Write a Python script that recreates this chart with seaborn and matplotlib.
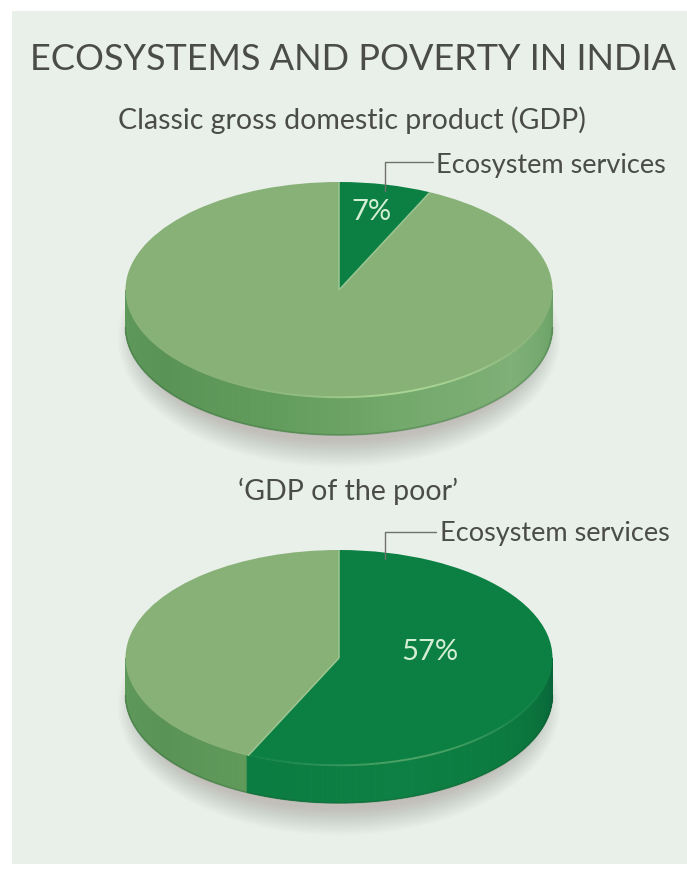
import numpy as np
import matplotlib
matplotlib.use("Agg")
import matplotlib.pyplot as plt
import seaborn as sns
from matplotlib.collections import LineCollection, PolyCollection
from matplotlib.patches import Ellipse, Rectangle

# Share of each GDP measure made up by ecosystem services, in percent
gdp_titles = ["Classic gross domestic product (GDP)", "\u2018GDP of the poor\u2019"]
ecosystem_share = [7, 57]
other_share = [93, 43]
callout_label = "Ecosystem services"
chart_title = "ECOSYSTEMS AND POVERTY IN INDIA"

W, H = 687, 879
BG = "#e9efe9"
INK = "#4a4c4a"
LIGHT_FACE, DARK_FACE = "#88b177", "#0c8043"

sns.set_theme(style="white")
plt.rcParams["font.family"] = ["Lato", "Open Sans", "DejaVu Sans"]

light_side = sns.blend_palette(["#5f9a5b", "#5a9356", "#629c5c", "#74a96c", "#7fb077", "#6aa165"], 240)
dark_side = sns.blend_palette(["#0b6f39", "#0c7b3f", "#0c7d41", "#0d8044", "#0b7a3e", "#08653a"], 240)

fig = plt.figure(figsize=(W / 100, H / 100), dpi=100, facecolor="white")
page = fig.add_axes([0, 0, 1, 1], zorder=0)
page.set_xlim(0, W)
page.set_ylim(H, 0)
page.axis("off")
page.add_patch(Rectangle((12, 12), W - 12, 853, facecolor=BG, edgecolor="none"))


def draw_pie(cy, eco, other, rx=213.5, ry=108, depth=37, cx=339):
    # Each pie sits in its own axes; one data unit equals one radius on each axis
    left, right = -1.2, 1.2
    top, bottom = 1.1, -1.75
    ax = fig.add_axes(
        [(cx + left * rx) / W, 1 - (cy - bottom * ry) / H,
         (right - left) * rx / W, (top - bottom) * ry / H],
        zorder=1,
    )
    d = depth / ry

    # Soft ground shadow below the disc
    for grow in np.linspace(0.24, 0.0, 24):
        ax.add_patch(Ellipse((0.0, -d - 0.10), 2 * (0.93 + grow * 0.45), 2 * (0.96 + grow),
                             facecolor="#8d7f7d", edgecolor="none", alpha=0.017, zorder=1))

    # Front wall of the disc, split into thin strips shaded along the arc
    boundary = 90 - 360 * eco / (eco + other)
    angles = np.linspace(180, 360, 241)
    polys, colours = [], []
    for i in range(240):
        a0, a1 = np.radians(angles[i]), np.radians(angles[i + 1])
        mid = angles[i] + 0.375
        # Wedge one runs clockwise from 12 o'clock to the boundary angle
        in_eco = (mid - 360) > boundary
        ramp = dark_side if in_eco else light_side
        polys.append([(np.cos(a0), np.sin(a0)), (np.cos(a1), np.sin(a1)),
                      (np.cos(a1), np.sin(a1) - d), (np.cos(a0), np.sin(a0) - d)])
        colours.append(ramp[i])
    ax.add_collection(PolyCollection(polys, facecolors=colours, edgecolors=colours,
                                     linewidths=0.6, zorder=2))

    # Rounded lower edge of the wall
    t = np.radians(np.linspace(180, 360, 181))
    x, y = np.cos(t), np.sin(t) - d
    segs = np.stack([np.c_[x[:-1], y[:-1]], np.c_[x[1:], y[1:]]], axis=1)
    ax.add_collection(LineCollection(segs, colors=[(0.1, 0.3, 0.14, 0.22)], linewidths=1.4, zorder=3))

    # Top face
    wedges, _ = ax.pie([eco, other], colors=[DARK_FACE, LIGHT_FACE], startangle=90,
                       counterclock=False, radius=1, center=(0, 0),
                       wedgeprops=dict(edgecolor="none", linewidth=0))
    for w in wedges:
        w.set_zorder(4)
    # Pale seam between the two wedges, running out from the centre
    for ang in (90, boundary):
        ax.plot([0, np.cos(np.radians(ang))], [0, np.sin(np.radians(ang))],
                color="#9cc592", lw=1.1, zorder=5, solid_capstyle="butt")

    # Highlight along the bevel, strongest on the front right of the rim
    deg = np.linspace(215, 345, 131)
    t = np.radians(deg)
    x, y = np.cos(t) * 0.993, np.sin(t) * 0.993
    strength = np.exp(-((deg - 290) / 30) ** 2)
    segs = np.stack([np.c_[x[:-1], y[:-1]], np.c_[x[1:], y[1:]]], axis=1)
    rim = [(0.33, 0.66, 0.42, 0.9 * s) if (dd - 360) > boundary else (0.68, 0.86, 0.60, 0.9 * s)
           for dd, s in zip(deg[:-1], strength[:-1])]
    ax.add_collection(LineCollection(segs, colors=rim, linewidths=1.4, zorder=6))

    ax.set_aspect("auto")
    ax.set_xlim(left, right)
    ax.set_ylim(bottom, top)
    ax.axis("off")
    ax.patch.set_alpha(0)


draw_pie(291, ecosystem_share[0], other_share[0])
draw_pie(659, ecosystem_share[1], other_share[1])

# Text and callouts are placed on the page axes, drawn above the pies
notes = fig.add_axes([0, 0, 1, 1], zorder=2)
notes.set_xlim(0, W)
notes.set_ylim(H, 0)
notes.axis("off")
notes.patch.set_alpha(0)

notes.text(30, 60, chart_title, fontsize=26, color=INK, va="center", ha="left")
notes.text(118, 120, gdp_titles[0], fontsize=20.5, color=INK, va="center", ha="left")
notes.text(348, 491, gdp_titles[1], fontsize=20.5, color=INK, va="center", ha="center")

notes.text(436, 165, callout_label, fontsize=19.5, color=INK, va="center", ha="left")
notes.text(440, 534, callout_label, fontsize=19.5, color=INK, va="center", ha="left")
notes.plot([433, 385, 385], [163, 163, 192], color="#6f736c", lw=1.0)
notes.plot([436, 385, 385], [533, 533, 560], color="#6f736c", lw=1.0)

notes.text(371, 212, f"{ecosystem_share[0]}%", fontsize=21, color="#d4eed6", ha="center", va="center")
notes.text(430, 652, f"{ecosystem_share[1]}%", fontsize=21, color="#d4eed6", ha="center", va="center")

fig.savefig("out.png", dpi=100)
